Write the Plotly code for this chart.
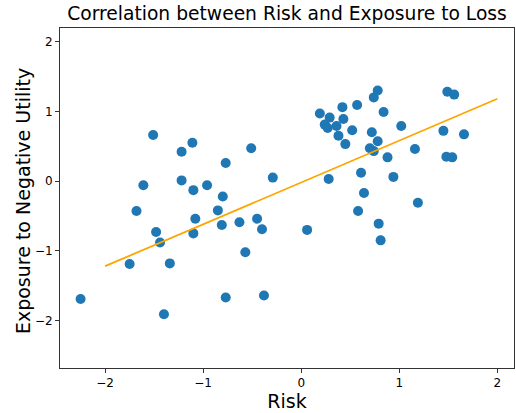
import plotly.graph_objects as go

# scatter data (Risk vs Exposure to Negative Utility)
risk = [
    -2.25, -1.75, -1.68, -1.61, -1.51, -1.48, -1.44, -1.40, -1.34, -1.22,
    -1.22, -1.11, -1.10, -1.10, -1.08, -0.96, -0.85, -0.80, -0.81, -0.77,
    -0.77, -0.63, -0.57, -0.51, -0.45, -0.40, -0.38, -0.29,
    0.06, 0.19, 0.29, 0.24, 0.27, 0.36, 0.42, 0.43, 0.38, 0.45,
    0.52, 0.57, 0.74, 0.78, 0.84, 0.72, 0.78, 0.70, 0.74, 0.88,
    1.02, 1.16, 0.28, 0.61, 0.94, 0.64, 1.19, 1.49, 1.56, 1.45,
    1.66, 1.48, 1.54, 0.58, 0.79, 0.81,
]
exposure = [
    -1.69, -1.19, -0.43, -0.06, 0.66, -0.73, -0.88, -1.91, -1.18, 0.42,
    0.01, 0.55, -0.13, -0.75, -0.54, -0.06, -0.42, -0.22, -0.63, 0.26,
    -1.67, -0.59, -1.02, 0.47, -0.54, -0.69, -1.64, 0.05,
    -0.70, 0.97, 0.91, 0.81, 0.76, 0.79, 1.06, 0.89, 0.65, 0.53,
    0.73, 1.09, 1.20, 1.30, 0.99, 0.70, 0.57, 0.47, 0.43, 0.34,
    0.79, 0.46, 0.03, 0.12, 0.06, -0.17, -0.31, 1.28, 1.24, 0.72,
    0.67, 0.35, 0.34, -0.43, -0.61, -0.85,
]

# fitted line end points
fit_x = [-2, 2]
fit_y = [-1.22, 1.18]

x_ticks = [-2, -1, 0, 1, 2]
y_ticks = [-2, -1, 0, 1, 2]

fig = go.Figure()
fig.add_trace(go.Scatter(x=risk, y=exposure, mode='markers',
                         marker=dict(color='#1f77b4', size=10, line=dict(width=0)),
                         showlegend=False))
fig.add_trace(go.Scatter(x=fit_x, y=fit_y, mode='lines',
                         line=dict(color='orange', width=1.8), showlegend=False))

axis_style = dict(showline=True, linecolor='#333333', linewidth=1, mirror=True,
                  ticks='outside', ticklen=4, tickcolor='#333333', showgrid=False,
                  zeroline=False, automargin=False,
                  tickfont=dict(size=12, color='black'))

fig.update_xaxes(range=[-2.46, 2.17], tickvals=x_ticks,
                 ticktext=[str(v).replace('-', '\u2212') for v in x_ticks],
                 title=dict(text='Risk', font=dict(size=19, color='black'), standoff=2),
                 **axis_style)
fig.update_yaxes(range=[-2.68, 2.195], tickvals=y_ticks,
                 ticktext=[str(v).replace('-', '\u2212') for v in y_ticks],
                 **axis_style)

# y title as an annotation so it sits where the reference has it
fig.add_annotation(text='Exposure to Negative Utility', textangle=-90,
                   xref='paper', yref='paper', x=-0.08, y=0.49,
                   xanchor='center', yanchor='middle', showarrow=False,
                   font=dict(size=19, color='black'))

fig.update_layout(
    width=516, height=413,
    margin=dict(l=60, r=2, t=28, b=45),
    plot_bgcolor='white', paper_bgcolor='white',
    font=dict(family='DejaVu Sans'),
    title=dict(text='Correlation between Risk and Exposure to Loss',
               font=dict(size=18.7, color='black'), automargin=False,
               x=0.5, xref='paper', xanchor='center',
               y=1 - 13 / 413, yref='container', yanchor='middle'),
)

# drop the default 8px body margin so the figure fills the window
fig.write_html("out.html", config={'displayModeBar': False},
               post_script="document.body.style.margin='0px';")
